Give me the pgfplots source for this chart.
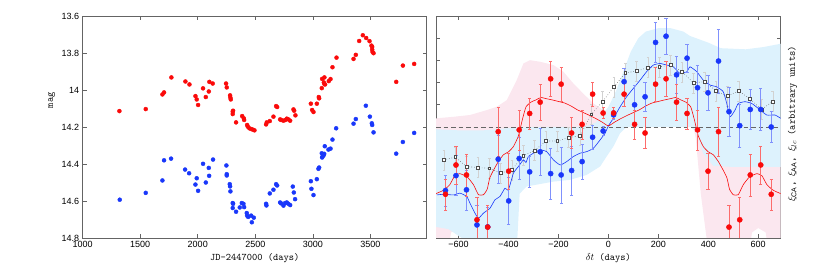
\documentclass[border=0pt]{standalone}
\usepackage{pgfplots}
\pgfplotsset{compat=1.18}
\usepackage{fontspec}
\setmainfont{Liberation Sans}
\definecolor{mred}{RGB}{250,10,10}
\definecolor{mblue}{RGB}{25,55,250}
\definecolor{pinkband}{RGB}{251,231,239}
\definecolor{blueband}{RGB}{221,242,253}
\definecolor{framec}{RGB}{100,100,100}
\pgfplotsset{myax/.style={scale only axis, axis line style={framec, line width=0.8pt},
  tick style={framec, line width=0.6pt}, major tick length=4pt,
  tick label style={font=\small}, /pgf/number format/assume math mode=true,
  label style={font=\ttfamily}}}
\begin{document}
\begin{tikzpicture}
\path[use as bounding box] (0,0) rectangle (830pt,265pt);
% ---------------- left panel ----------------
\begin{axis}[myax, at={(82.7pt,27pt)}, anchor=south west, width=344pt, height=222pt,
  xmin=1000, xmax=3990, ymin=13.6, ymax=14.8, y dir=reverse,
  xtick={1000,1500,2000,2500,3000,3500}, xticklabels={1000,1500,2000,2500,3000,3500},
  ytick={13.6,13.8,14,14.2,14.4,14.6,14.8}, yticklabels={13.6,13.8,14,14.2,14.4,14.6,14.8},
  xlabel={JD-2447000 (days)}, ylabel={mag},
  xlabel style={at={(axis description cs:0.5,0)}, anchor=center, yshift=-20pt},
  ylabel style={at={(axis description cs:-0.09,0.62)}, anchor=center}]
\addplot[only marks, mark=*, mark size=2pt, mark options={draw=mred, fill=mred}] table {
1319 14.114
1548 14.103
1693 14.024
1707 14.013
1771 13.932
1893 13.954
1928 13.970
1980 14.033
1991 14.051
2003 14.081
2046 13.991
2070 14.038
2096 14.008
2101 13.956
2130 13.965
2246 13.965
2252 13.986
2281 14.029
2284 14.042
2287 14.051
2304 14.117
2304 14.130
2307 14.112
2333 14.175
2386 14.141
2400 14.153
2403 14.162
2429 14.189
2435 14.198
2449 14.207
2464 14.211
2478 14.214
2493 14.218
2594 14.186
2600 14.175
2626 14.168
2658 14.144
2681 14.087
2690 14.092
2716 14.159
2725 14.162
2745 14.166
2762 14.162
2774 14.155
2788 14.159
2803 14.166
2832 14.105
2838 14.112
2849 14.137
2983 14.074
2994 14.108
3006 14.119
3035 14.074
3052 14.038
3055 14.045
3078 13.990
3081 13.940
3096 13.959
3101 13.932
3101 13.968
3107 13.970
3139 13.952
3154 13.941
3171 13.877
3206 13.825
3354 13.832
3374 13.810
3403 13.735
3435 13.704
3464 13.719
3493 13.736
3510 13.760
3516 13.767
3516 13.781
3519 13.794
3528 13.801
3725 13.956
3783 13.868
3881 13.859
};
\addplot[only marks, mark=*, mark size=2pt, mark options={draw=mblue, fill=mblue}] table {
1322 14.593
1548 14.556
1693 14.489
1707 14.380
1768 14.371
1890 14.430
1925 14.450
1980 14.511
1991 14.477
2003 14.545
2046 14.399
2070 14.500
2096 14.421
2099 14.464
2133 14.376
2249 14.408
2252 14.455
2252 14.462
2278 14.509
2281 14.521
2284 14.548
2304 14.611
2304 14.638
2307 14.615
2333 14.658
2365 14.635
2383 14.611
2397 14.615
2403 14.633
2426 14.665
2429 14.679
2438 14.686
2464 14.679
2470 14.715
2487 14.690
2594 14.615
2597 14.624
2626 14.559
2658 14.539
2681 14.509
2690 14.516
2716 14.608
2725 14.613
2745 14.625
2759 14.611
2774 14.608
2788 14.615
2803 14.622
2826 14.522
2835 14.554
2846 14.590
2983 14.493
2988 14.534
3006 14.568
3035 14.482
3049 14.426
3055 14.419
3078 14.342
3081 14.365
3084 14.360
3093 14.354
3099 14.345
3104 14.304
3136 14.322
3154 14.317
3171 14.268
3203 14.207
3354 14.182
3374 14.157
3461 14.085
3496 14.144
3513 14.180
3516 14.189
3528 14.229
3725 14.344
3783 14.281
3881 14.232
};
\end{axis}
% ---------------- right panel ----------------
\begin{axis}[myax, at={(436pt,27pt)}, anchor=south west, width=344.7pt, height=222pt,
  xmin=-690, xmax=690, ymin=-5, ymax=5,
  xtick={-600,-400,-200,0,200,400,600}, xticklabels={−600,−400,−200,0,200,400,600},
  ytick={-5,-4,...,5}, yticklabels={},
  xlabel={$\delta t$ (days)},
  ylabel={$\xi_{\mathrm{CA}}$, $\xi_{\mathrm{AA}}$, $\xi_{lc}$ (arbitrary units)},
  xlabel style={at={(axis description cs:0.5,0)}, anchor=center, yshift=-20pt},
  ylabel style={at={(axis description cs:1.034,0.514)}, anchor=center}]
% pink band
\addplot[fill=pinkband, draw=none] coordinates {
(-690,0.39) (-620,0.46) (-554,0.54) (-487,0.76) (-447,0.91) (-407,1.21) (-367,2.11)
(-340,2.86) (-314,3.01) (-274,2.94) (-220,2.79) (-180,2.49) (-140,1.96) (-100,1.5)
(-60,1.06) (-20,0.76) (0,0.7) (20,0.76) (60,1.06) (100,1.5) (140,1.96) (180,2.49)
(220,2.79) (274,2.94) (314,3.01) (340,2.86) (367,2.11) (407,1.21) (447,0.91) (487,0.76)
(554,0.54) (620,0.46) (690,0.39)
(690,-5.6) (640,-5.6) (630,-4.75) (600,-4.55) (575,-4.75) (565,-5.6) (400,-5.6)
(370,-3) (350,-0.5) (340,0) (-340,0) (-350,-0.5) (-370,-3) (-400,-5.6) (-565,-5.6)
(-575,-4.75) (-600,-4.55) (-630,-4.75) (-640,-5.6) (-690,-5.6)
} -- cycle;
% blue band
\addplot[fill=blueband, draw=none] coordinates {
(-690,-0.1) (-600,-0.15) (-500,-0.15) (-400,-0.05) (-300,0) (-100,0) (-50,0.2)
(0,0.9) (30,1.6) (60,2.5) (90,3.4) (120,4.0) (150,4.3) (200,4.45) (250,4.45)
(300,4.3) (327,4.1) (400,3.8) (450,3.55) (550,3.5) (620,3.6) (690,3.75)
(690,-1.8) (600,-1.8) (500,-1.8) (420,-1.75) (380,-1.2) (350,-0.2) (330,0)
(73,0) (47,-0.28) (20,-0.88) (-7,-1.33) (-33,-1.78) (-87,-2.16) (-153,-2.38)
(-220,-2.46) (-327,-2.68) (-355,-3.0) (-367,-5.6) (-450,-5.6) (-540,-5.6)
(-560,-5.2) (-640,-4.6) (-690,-4.5)
} -- cycle;
\addplot[black!60, line width=0.9pt, dash pattern=on 4.5pt off 3pt] coordinates {(-690,0) (690,0)};
% gray light-curve points
\addplot[black!55, dotted, line width=0.6pt, mark=square*, mark size=1.4pt,
  mark options={solid, draw=black!70, fill=white},
  error bars/.cd, y dir=both, y explicit,
  error bar style={black!18, solid, line width=0.5pt},
  error mark options={rotate=90, mark size=1.3pt, black!18, solid}]
  table[x=x, y=y, y error=e] {
x y e
-658.3 -1.48 0.45
-612.9 -1.36 0.45
-567.5 -1.78 0.45
-522.1 -1.83 0.45
-476.7 -1.86 0.45
-431.3 -2.08 0.45
-385.9 -1.93 0.45
-340.5 -1.29 0.45
-295.1 -1.06 0.45
-249.7 -0.63 0.45
-204.3 -0.63 0.45
-158.9 -0.48 0.45
-113.5 -0.39 0.45
-68.1 0.57 0.45
-22.7 1.15 0.45
22.7 1.81 0.45
68.1 2.44 0.45
113.5 2.52 0.45
158.9 2.68 0.45
204.3 2.71 0.45
249.7 2.79 0.45
295.1 2.49 0.45
340.5 1.99 0.45
385.9 2.04 0.45
431.3 1.63 0.45
476.7 1.39 0.45
522.1 1.62 0.45
567.5 1.26 0.45
612.9 0.79 0.45
658.3 1.15 0.45
};
% blue line
\addplot[mblue, line width=0.6pt, smooth, tension=0.3] coordinates {
(-687,-3.06) (-660,-3.03) (-620,-3.06) (-594,-2.98) (-567,-3.13) (-554,-3.43)
(-534,-3.88) (-520,-4.11) (-500,-3.88) (-474,-3.66) (-454,-3.28) (-434,-3.13)
(-414,-2.76) (-400,-2.83) (-380,-2.08) (-360,-1.78) (-340,-1.48) (-330,-1.60)
(-320,-1.33) (-300,-1.18) (-274,-1.03) (-247,-1.11) (-220,-1.48) (-193,-1.71)
(-167,-1.56) (-140,-1.33) (-113,-1.18) (-87,-1.11) (-60,-0.96) (-33,-0.58)
(-13,-0.28) (0,0.05) (20,0.39) (47,0.91) (73,1.36) (100,1.74) (127,2.11)
(153,2.49) (180,2.79) (207,2.86) (234,2.79) (260,2.71) (287,2.41) (314,2.49)
(327,2.71) (354,2.49) (380,2.11) (407,1.89) (434,1.81) (460,1.59) (474,1.06)
(487,0.46) (507,0.76) (520,1.06) (547,1.14) (574,1.06) (600,0.84) (634,0.54)
(667,0.54) (690,0.39)
};
% red line
\addplot[mred, line width=0.6pt, smooth, tension=0.3] coordinates {
(-690,-3.0) (-660,-2.85) (-635,-2.6) (-615,-2.2) (-595,-2.1) (-565,-2.25)
(-540,-2.6) (-520,-3.05) (-500,-3.05) (-485,-2.8) (-475,-2.3) (-460,-1.95)
(-440,-1.55) (-420,-1.25) (-400,-1.12) (-380,-0.88) (-360,-0.4) (-345,0.3)
(-330,0.9) (-310,1.12) (-290,1.22) (-270,1.33) (-250,1.28) (-225,1.22)
(-200,1.15) (-175,1.08) (-150,0.95) (-125,0.78) (-100,0.65) (-75,0.52)
(-50,0.38) (-25,0.22) (0,0.05) (25,0.22) (50,0.38) (75,0.52) (100,0.65)
(125,0.78) (150,0.95) (175,1.08) (200,1.15) (225,1.22) (250,1.28) (270,1.33)
(290,1.22) (310,1.12) (330,0.9) (345,0.3) (360,-0.4) (380,-0.88) (400,-1.12)
(420,-1.25) (440,-1.55) (460,-1.95) (475,-2.3) (485,-2.8) (500,-3.05)
(520,-3.05) (540,-2.6) (565,-2.25) (595,-2.1) (615,-2.2) (635,-2.6)
(660,-2.85) (690,-3.0)
};
% blue points
\addplot[only marks, mark=*, mark size=2.6pt, mark options={draw=mblue, fill=mblue},
  error bars/.cd, y dir=both, y explicit,
  error bar style={color=mblue!55, line width=0.6pt},
  error mark options={rotate=90, mark size=1.6pt, color=mblue!55}]
  table[x=x, y=y, y error=e] {
x y e
-652 -2.86 0.7
-610 -2.19 0.9
-568 -2.83 0.9
-526 -4.41 0.9
-483 -4.5 0.9
-441 -1.45 1.1
-399 -3.33 1.05
-357 -1.42 0.95
-315 -2.02 0.7
-273 -1.12 1.05
-231 -2.10 1.15
-189 -2.16 1.25
-147 -1.96 1.1
-105 -1.56 0.8
-63 -0.46 0.55
-21 -0.18 0.2
21 0.55 0.2
63 2.04 0.6
105 1.00 0.9
147 1.36 0.65
189 3.81 0.9
231 4.09 0.8
273 2.35 0.85
315 3.10 0.65
357 1.77 1.0
399 1.54 0.8
441 2.97 1.45
483 0.69 1.1
526 0.06 0.95
568 0.79 0.9
610 0.79 0.95
652 0.00 0.7
};
% red points
\addplot[only marks, mark=*, mark size=2.6pt, mark options={draw=mred, fill=mred},
  error bars/.cd, y dir=both, y explicit,
  error bar style={color=mred!60, line width=0.6pt},
  error mark options={rotate=90, mark size=1.6pt, color=mred!60}]
  table[x=x, y=y, y error=e] {
x y e
-652 -3.03 0.7
-610 -1.71 0.85
-568 -2.16 0.95
-526 -4.18 1.0
-483 -4.51 1.0
-441 -0.21 1.1
-399 -1.99 0.8
-357 -0.13 0.9
-315 0.61 0.7
-273 1.12 0.8
-231 2.17 0.8
-189 1.93 0.75
-147 -0.27 0.7
-105 0.12 0.65
-63 1.48 0.55
-21 0.63 0.25
21 0.63 0.25
63 1.48 0.55
105 0.12 0.65
147 -0.27 0.7
189 1.93 0.75
231 2.17 0.8
273 1.12 0.8
315 0.61 0.7
357 -0.13 0.9
399 -1.99 0.8
441 -0.21 1.1
483 -4.51 1.0
526 -4.18 1.0
568 -2.16 0.95
610 -1.71 0.85
652 -3.03 0.7
};
\end{axis}
\end{tikzpicture}
\end{document}
